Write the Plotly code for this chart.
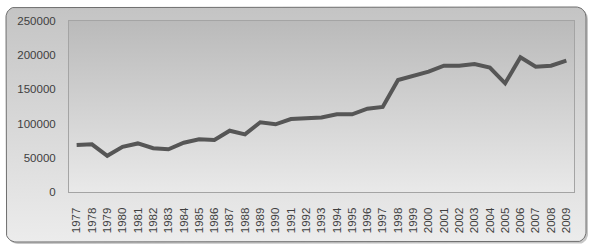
import numpy as np
import plotly.graph_objects as go

# ---- data ----
years = [str(y) for y in range(1977, 2010)]
values = [68700, 69700, 53000, 66000, 71000, 64000, 62500, 72000, 77000, 76000,
          89600, 84300, 102000, 99000, 106700, 107700, 109000, 113600, 113600, 121800,
          124300, 163700, 169600, 175900, 184700, 184700, 187100, 181800, 158900, 196900,
          183200, 184700, 192000]
y_ticks = [0, 50000, 100000, 150000, 200000, 250000]

W, H = 590, 247


def rrect(x0, y0, x1, y1, r, n=10):
    xs, ys = [], []
    corners = [(x1 - r, y1 - r, 0), (x0 + r, y1 - r, 90), (x0 + r, y0 + r, 180), (x1 - r, y0 + r, 270)]
    for cx, cy, a0 in corners:
        for t in np.linspace(a0, a0 + 90, n):
            xs.append(cx + r * np.cos(np.radians(t)))
            ys.append(cy + r * np.sin(np.radians(t)))
    xs.append(xs[0]); ys.append(ys[0])
    return xs, ys


fig = go.Figure()

# background subplot (pixel coordinates, y up)
sx, sy = rrect(8, 3, 588, 238, 10)
fig.add_trace(go.Scatter(x=sx, y=sy, fill="toself", mode="lines",
                         line=dict(width=0, color="rgba(0,0,0,0)"),
                         fillcolor="rgba(0,0,0,0.22)", hoverinfo="skip", showlegend=False,
                         xaxis="x", yaxis="y"))
bx, by = rrect(6, 5, 586, 240, 10)
fig.add_trace(go.Scatter(x=bx, y=by, fill="toself", mode="lines",
                         line=dict(width=1, color="#6e6e6e"),
                         fillgradient=dict(type="vertical", start=5, stop=240,
                                           colorscale=[[0, "#ececec"], [1, "#c4c4c4"]]),
                         hoverinfo="skip", showlegend=False, xaxis="x", yaxis="y"))
px = [69, 574, 574, 69, 69]
py = [55, 55, 226, 226, 55]
fig.add_trace(go.Scatter(x=px, y=py, fill="toself", mode="lines",
                         line=dict(width=0, color="rgba(0,0,0,0)"),
                         fillgradient=dict(type="vertical", start=55, stop=226,
                                           colorscale=[[0, "#e9e9e9"], [1, "#bababa"]]),
                         hoverinfo="skip", showlegend=False, xaxis="x", yaxis="y"))

# data line
fig.add_trace(go.Scatter(x=years, y=values, mode="lines",
                         line=dict(color="#565656", width=4),
                         showlegend=False, xaxis="x2", yaxis="y2"))

font = dict(family="Liberation Sans, Arial, sans-serif", size=11.5, color="#404040")
fig.update_layout(
    width=W, height=H,
    margin=dict(l=0, r=0, t=0, b=0, autoexpand=False),
    paper_bgcolor="white",
    plot_bgcolor="rgba(0,0,0,0)",
    font=font,
    xaxis=dict(domain=[0, 1], range=[0, W], visible=False, fixedrange=True, automargin=False),
    yaxis=dict(domain=[0, 1], range=[0, H], visible=False, fixedrange=True, automargin=False),
    xaxis2=dict(domain=[69 / W, 574 / W], anchor="y2", type="category",
                range=[-0.5, len(years) - 0.5],
                tickangle=-90, showgrid=False, showline=True, mirror=True,
                linecolor="#a4a4a4", linewidth=1, ticks="", ticklabelstandoff=10,
                tickfont=font, automargin=False),
    yaxis2=dict(domain=[55 / H, 226 / H], anchor="x2", range=[0, 250000],
                tickvals=y_ticks, ticktext=[str(v) for v in y_ticks],
                showgrid=False, showline=True, mirror=True, linecolor="#a4a4a4",
                linewidth=1, ticks="", ticklabelstandoff=10, zeroline=False,
                tickfont=font, automargin=False),
)

fig.write_html("out.html", config={"displayModeBar": False},
               post_script="document.body.style.margin='0';")
